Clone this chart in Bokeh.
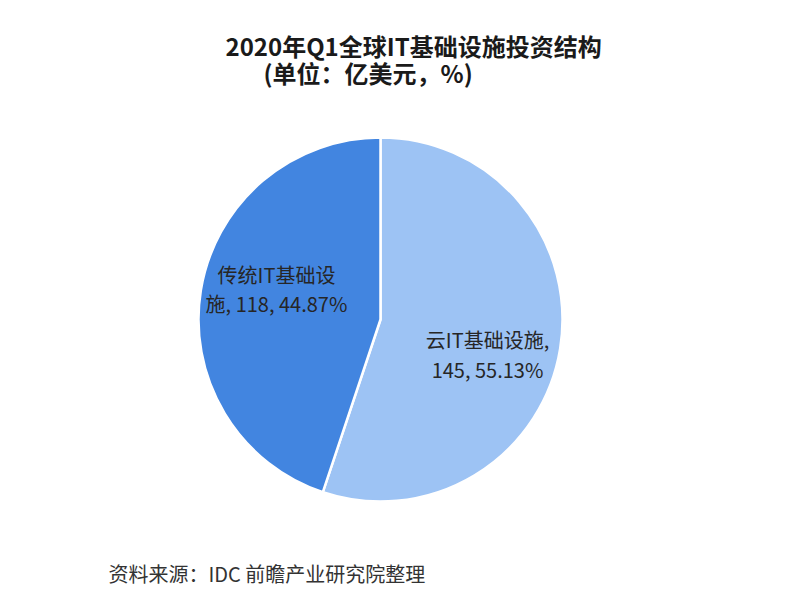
import math
from bokeh.plotting import figure
from bokeh.models import Range1d, Label
from bokeh.core.properties import value
from bokeh.embed import file_html
from bokeh.resources import INLINE

# ---- data ----
categories = ["云IT基础设施", "传统IT基础设施"]
amounts = [145, 118]
percents = [55.13, 44.87]
colors = ["#9dc3f4", "#4285e0"]

title_line1 = "2020年Q1全球IT基础设施投资结构"
title_line2 = "(单位：亿美元，%)"
source_text = "资料来源：IDC 前瞻产业研究院整理"

W, H = 799, 590
FONT = "Noto Sans CJK SC"


def sy(y):
    # screen y (pixel from top) -> data y
    return H - y


p = figure(width=W, height=H, output_backend="svg", toolbar_location=None,
           x_range=Range1d(0, W), y_range=Range1d(0, H),
           x_axis_location=None, y_axis_location=None, min_border=0)
p.grid.visible = False
p.outline_line_color = None
p.background_fill_color = "white"
p.border_fill_color = "white"

cx, cy, r = 380, sy(319), 182
start = math.pi / 2
starts, ends = [], []
for pct in percents:
    end = start - 2 * math.pi * pct / 100.0
    starts.append(start)
    ends.append(end)
    start = end

p.wedge(x=[cx] * len(percents), y=[cy] * len(percents), radius=r,
        start_angle=starts, end_angle=ends, direction="clock",
        fill_color=colors, line_color="white", line_width=2.5)

# slice labels
cloud_label = f"{categories[0]},\n{amounts[0]}, {percents[0]:.2f}%"
trad_full = f"{categories[1]}, {amounts[1]}, {percents[1]:.2f}%"
trad_label = trad_full[:7] + "\n" + trad_full[7:]

p.text(x=[487], y=[sy(354)], text=[cloud_label], text_font=value(FONT),
       text_font_size="20px", text_color="#262626", text_align="center",
       text_baseline="middle", text_line_height=1.03)
p.text(x=[276], y=[sy(288)], text=[trad_label], text_font=value(FONT),
       text_font_size="20px", text_color="#262626", text_align="center",
       text_baseline="middle", text_line_height=1.0)

# titles
p.add_layout(Label(x=225, y=sy(45), text=title_line1, text_font=FONT,
                   text_font_size="24px", text_font_style="bold",
                   text_color="#1a1a1a", text_baseline="middle"))
p.add_layout(Label(x=263, y=sy(72), text=title_line2, text_font=FONT,
                   text_font_size="24px", text_font_style="bold",
                   text_color="#1a1a1a", text_baseline="middle"))
p.add_layout(Label(x=108, y=sy(573), text=source_text, text_font=FONT,
                   text_font_size="20px", text_color="#333333",
                   text_baseline="middle"))

open("out.html", "w").write(file_html(p, INLINE))
